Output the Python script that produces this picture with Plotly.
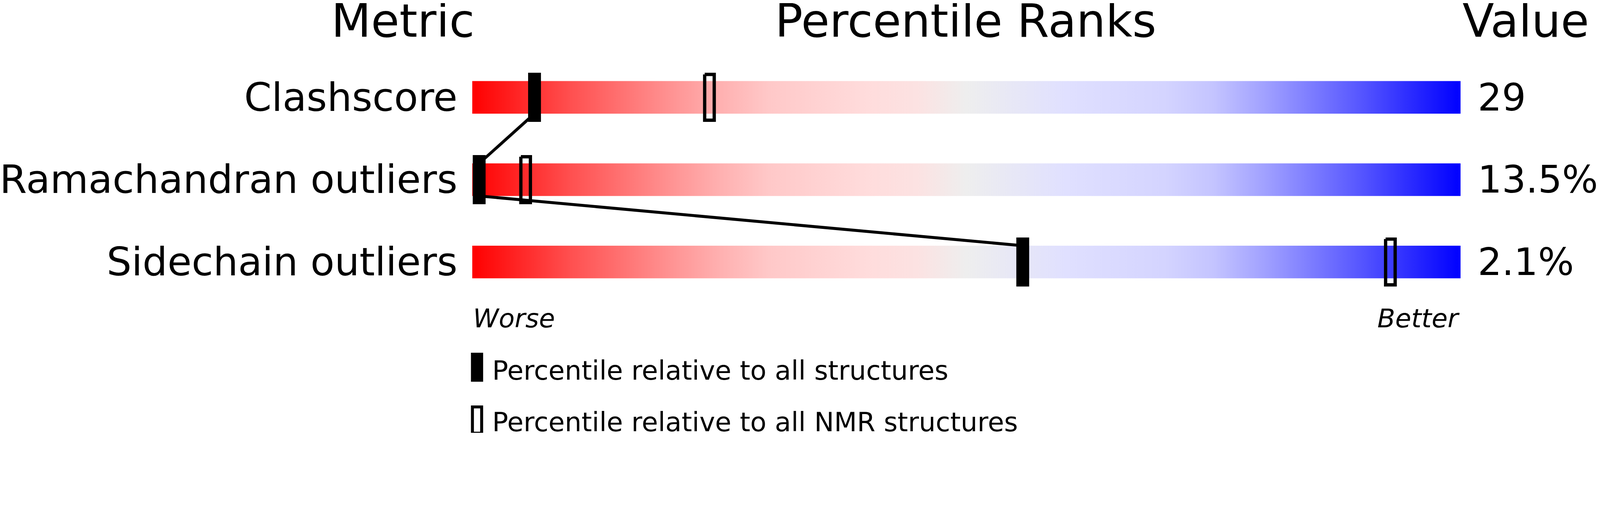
import plotly.graph_objects as go

# validation slider data
METRICS = ["Clashscore", "Ramachandran outliers", "Sidechain outliers"]
VALUES = ["29", "13.5%", "2.1%"]
PCT_ALL = [6.3, 0.7, 55.7]   # percentile vs all structures
PCT_NMR = [24.0, 5.4, 92.9]  # percentile vs NMR structures
HEADERS = ["Metric", "Percentile Ranks", "Value"]
LEGEND = ["Percentile relative to all structures", "Percentile relative to all NMR structures"]
PCT_MIN, PCT_MAX = 0, 100

GRADIENT = [
    [0.0, "#ff0000"], [0.1, "#ff5050"], [0.2, "#ff9292"], [0.25, "#ffb0b0"],
    [0.3, "#ffc8c8"], [0.4, "#ffdcdc"], [0.45, "#fce2e2"], [0.5, "#eeeeee"],
    [0.6, "#e0e0ff"], [0.7, "#d4d4ff"], [0.75, "#c4c4ff"], [0.8, "#a2a2ff"],
    [0.9, "#5555ff"], [1.0, "#0000ff"],
]
FONT = "DejaVu Sans"
K = 4858 / 4096   # screenshot px per css px
S = 1 / K
W, H = 4080, 1100
BAR_H = 0.396     # gradient bar height in row units
rows = list(range(len(METRICS)))

# layout: plot area spans screen x 1434..4434, rows 250 screen px apart from y=295.5
L = 1434 * S - 8
PW = 3000 * S
ROW = 250 * S
Y0 = 295.5 * S - 8
y_top = -Y0 / ROW
y_bot = y_top + H / ROW


def px_x(sx):
    return (sx - 1434) / 3000


def px_y(sy):
    return 1 - (sy * S - 8) / H


def rect_path(xs, ys, w, h):
    px, py = [], []
    for x, y in zip(xs, ys):
        px += [x - w / 2, x + w / 2, x + w / 2, x - w / 2, x - w / 2, None]
        py += [y - h / 2, y - h / 2, y + h / 2, y + h / 2, y - h / 2, None]
    return px, py


fig = go.Figure()

# gradient bars
for r in rows:
    lo, hi = r - BAR_H / 2, r + BAR_H / 2
    fig.add_trace(go.Scatter(
        x=[PCT_MIN, PCT_MAX, PCT_MAX, PCT_MIN, PCT_MIN], y=[lo, lo, hi, hi, lo],
        mode="lines", line=dict(width=0), fill="toself",
        fillgradient=dict(type="horizontal", colorscale=GRADIENT),
        hoverinfo="skip"))

# lines joining the all-structure markers
lx, ly = [], []
for i in rows[:-1]:
    lx += [PCT_ALL[i], PCT_ALL[i + 1], None]
    ly += [i + BAR_H / 2, i + 1 - BAR_H / 2, None]
fig.add_trace(go.Scatter(x=lx, y=ly, mode="lines", line=dict(color="black", width=9 * S),
                         hoverinfo="skip"))

# markers
fx, fy = rect_path(PCT_ALL, rows, 1.3, 0.596)
fig.add_trace(go.Scatter(x=fx, y=fy, mode="lines", fill="toself", fillcolor="black",
                         line=dict(width=0), name=LEGEND[0], hoverinfo="skip"))
ox, oy = rect_path(PCT_NMR, rows, 0.967, 0.556)
fig.add_trace(go.Scatter(x=ox, y=oy, mode="lines", fill="toself", fillcolor="rgba(0,0,0,0)",
                         line=dict(width=10 * S, color="black"), name=LEGEND[1],
                         hoverinfo="skip"))

ann = []
for r in rows:
    ann.append(dict(x=px_x(1391), xref="paper", y=r, yref="y", text=METRICS[r],
                    xanchor="right", yanchor="middle", showarrow=False,
                    font=dict(size=119.3 * S)))
    ann.append(dict(x=px_x(4484), xref="paper", y=r, yref="y", text=VALUES[r],
                    xanchor="left", yanchor="middle", showarrow=False,
                    font=dict(size=115 * S)))
for txt, sx in zip(HEADERS, [1224, 2932, 4632]):
    ann.append(dict(x=px_x(sx), xref="paper", y=px_y(63), yref="paper", text=txt,
                    xanchor="center", yanchor="middle", showarrow=False,
                    font=dict(size=140 * S)))
ann.append(dict(x=PCT_MIN, y=2.686, text="<i>Worse</i>", xanchor="left", yanchor="middle",
                showarrow=False, font=dict(size=79 * S)))
ann.append(dict(x=PCT_MAX, y=2.686, text="<i>Better</i>", xanchor="right", yanchor="middle",
                showarrow=False, font=dict(size=79 * S)))
for txt, sy in zip(LEGEND, [1125, 1281]):
    ann.append(dict(x=px_x(1492), xref="paper", y=px_y(sy), yref="paper", text=txt,
                    xanchor="left", yanchor="middle", showarrow=False,
                    font=dict(size=80.5 * S)))

shapes = [
    dict(type="rect", xref="paper", yref="paper", x0=px_x(1430), x1=px_x(1467),
         y0=px_y(1159), y1=px_y(1071), fillcolor="black", line=dict(width=0)),
    dict(type="rect", xref="paper", yref="paper", x0=px_x(1434.5), x1=px_x(1462.5),
         y0=px_y(1315.5), y1=px_y(1235.5), fillcolor="rgba(0,0,0,0)",
         line=dict(width=9 * S, color="black")),
]

fig.update_layout(
    width=W, height=H, margin=dict(l=L, r=W - L - PW, t=0, b=0),
    paper_bgcolor="white", plot_bgcolor="white", showlegend=False,
    font=dict(family=FONT, color="black"),
    xaxis=dict(range=[PCT_MIN, PCT_MAX], visible=False),
    yaxis=dict(range=[y_bot, y_top], visible=False),
    annotations=ann, shapes=shapes,
)
fig.write_html("out.html")
